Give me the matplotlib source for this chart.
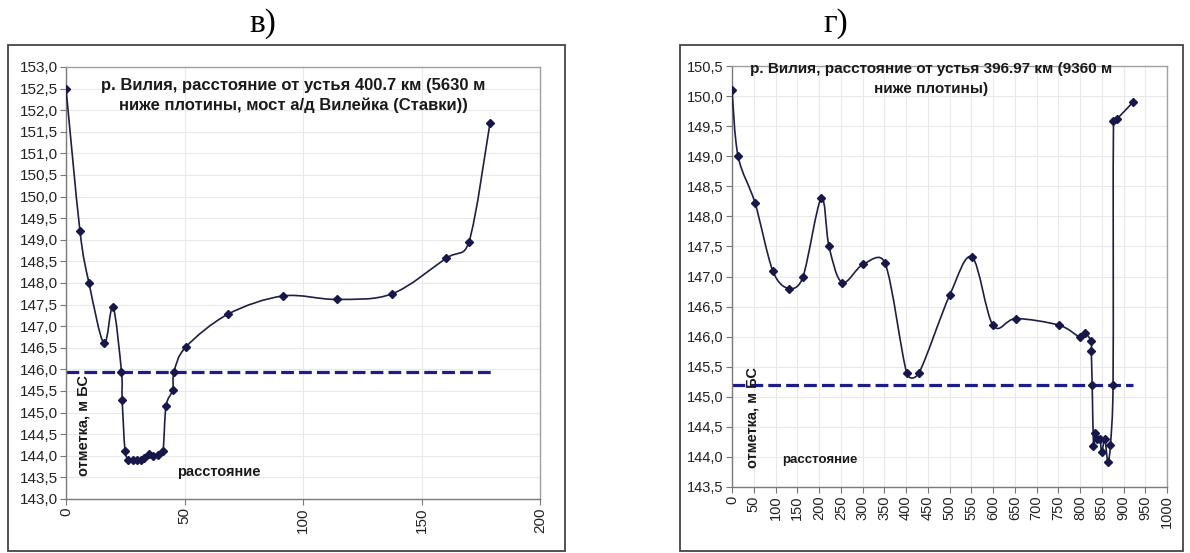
import numpy as np
import matplotlib
matplotlib.use("Agg")
import matplotlib.pyplot as plt
from matplotlib.path import Path
from matplotlib.patches import PathPatch, Rectangle
from matplotlib.ticker import FuncFormatter, MultipleLocator

plt.rcParams['font.family'] = ['Liberation Sans', 'DejaVu Sans']

# ---------------- data: panel "в)" ----------------
dist_v = [0, 5.9, 9.7, 16.0, 19.8, 23.4, 23.7, 24.9, 26.3, 28.1, 29.8, 31.5, 32.9,
          35.0, 36.7, 38.8, 40.9, 42.2, 45.0, 45.6, 50.6, 68.4, 91.6, 114.3, 137.6,
          160.3, 170.0, 178.9]
elev_v = [152.5, 149.2, 148.0, 146.6, 147.45, 145.95, 145.3, 144.12, 143.9, 143.9,
          143.9, 143.9, 143.95, 144.05, 144.0, 144.02, 144.1, 145.15, 145.52, 145.95,
          146.52, 147.28, 147.7, 147.62, 147.75, 148.57, 148.95, 151.7]
water_v_x = [0, 180]
water_v_y = [145.95, 145.95]
title_v = "р. Вилия, расстояние от устья 400.7 км (5630 м\nниже плотины, мост а/д Вилейка (Ставки))"
xticks_v = [0, 50, 100, 150, 200]

# ---------------- data: panel "г)" ----------------
dist_g = [0, 14, 53, 94, 131, 163, 205, 223, 253, 301, 352, 402, 430, 501, 552,
          600, 653, 752, 800, 811, 826, 826, 828, 831, 834, 840, 846, 850, 857,
          864, 870, 876, 877, 885, 922]
elev_g = [150.1, 149.0, 148.22, 147.09, 146.8, 146.99, 148.3, 147.5, 146.9, 147.2,
          147.22, 145.39, 145.4, 146.7, 147.32, 146.19, 146.3, 146.19, 145.99, 146.06,
          145.92, 145.76, 145.2, 144.19, 144.39, 144.3, 144.3, 144.08, 144.29,
          143.92, 144.2, 145.2, 149.58, 149.62, 149.9]
water_g_x = [0, 922]
water_g_y = [145.2, 145.2]
title_g = "р. Вилия, расстояние от устья 396.97 км (9360 м\nниже плотины)"

LINE = '#1e1e46'
MARK = '#17174a'
WATER = '#1c1c8a'
GRID = '#e9e9e9'


def smooth_path(x, y, sx, sy):
    """Excel-like smoothed line (Catmull-Rom Bezier), tangents limited to avoid overshoot."""
    pts = np.column_stack([np.asarray(x, float) * sx, np.asarray(y, float) * sy])
    n = len(pts)
    verts = [pts[0]]
    codes = [Path.MOVETO]
    for i in range(n - 1):
        p0 = pts[i - 1] if i > 0 else pts[i]
        p1 = pts[i]
        p2 = pts[i + 1]
        p3 = pts[i + 2] if i + 2 < n else pts[i + 1]
        seg = np.hypot(*(p2 - p1))
        t1 = (p2 - p0) / 6.0
        t2 = (p3 - p1) / 6.0
        lim = seg * 0.6
        for t in (t1, t2):
            L = np.hypot(*t)
            if L > lim and L > 0:
                t *= lim / L
        c1 = p1 + t1
        c2 = p2 - t2
        verts += [c1, c2, p2]
        codes += [Path.CURVE4] * 3
    verts = np.array(verts)
    verts[:, 0] /= sx
    verts[:, 1] /= sy
    return Path(verts, codes)


fig = plt.figure(figsize=(11.9, 5.53), dpi=100)
W, H = 1190, 553


def fx(px):
    return px / W


def fy(py):
    return 1 - py / H


# outer frames
for (x0, y0, x1, y1) in [(8, 45, 565, 551), (680, 45, 1183, 551)]:
    fig.add_artist(Rectangle((fx(x0), fy(y1)), fx(x1) - fx(x0), fy(y0) - fy(y1),
                             transform=fig.transFigure, fill=False,
                             edgecolor='#444444', lw=1.3))

fig.text(fx(263), fy(24), "в)", family='Liberation Serif', fontsize=24,
         ha='center', va='center')
fig.text(fx(836), fy(24), "г)", family='Liberation Serif', fontsize=24,
         ha='center', va='center')


def setup(ax, xmax, xstep, ymin, ymax, fs):
    ax.set_xlim(0, xmax)
    ax.set_ylim(ymin, ymax)
    ax.xaxis.set_major_locator(MultipleLocator(xstep))
    ax.yaxis.set_major_locator(MultipleLocator(0.5))
    ax.yaxis.set_major_formatter(FuncFormatter(lambda v, p: f"{v:.1f}".replace('.', ',')))
    ax.xaxis.set_major_formatter(FuncFormatter(lambda v, p: f"{v:.0f}"))
    ax.grid(True, color=GRID, lw=0.8)
    ax.set_axisbelow(True)
    for s in ax.spines.values():
        s.set_color('#a0a0a0')
        s.set_linewidth(1.0)
    ax.spines['left'].set_color('#7a7a7a')
    ax.spines['bottom'].set_color('#7a7a7a')
    ax.tick_params(axis='both', direction='out', length=4, width=0.8, color='#777777',
                   labelsize=fs, labelcolor='#222222', pad=2)
    ax.tick_params(axis='x', labelrotation=90)


# -------- panel в --------
ax1 = fig.add_axes([fx(66), fy(499), fx(540) - fx(66), fy(67) - fy(499)])
setup(ax1, 200, 50, 143.0, 153.0, 11)
ax1.set_xticks(xticks_v)
ax1.plot(water_v_x, water_v_y, color=WATER, lw=2.3, dashes=(4, 1.6), zorder=2)
ax1.add_patch(PathPatch(smooth_path(dist_v, elev_v, 474 / 200, 432 / 10), fill=False,
                        edgecolor=LINE, lw=1.2, zorder=3))
ax1.plot(dist_v, elev_v, ls='none', marker='D', ms=3.6, color=MARK, zorder=4)
ax1.text(0.48, 0.935, title_v, transform=ax1.transAxes, ha='center', va='center',
         fontsize=12, fontweight='bold', linespacing=1.35, color='#1a1a1a')
ax1.text(0.036, 0.17, "отметка, м БС", transform=ax1.transAxes, rotation=90,
         ha='center', va='center', fontsize=10.5, fontweight='bold', color='#1a1a1a')
ax1.text(0.323, 0.063, "расстояние", transform=ax1.transAxes, ha='center',
         va='center', fontsize=10.5, fontweight='bold', color='#1a1a1a')

# -------- panel г --------
ax2 = fig.add_axes([fx(732), fy(487), fx(1167) - fx(732), fy(66) - fy(487)])
setup(ax2, 1000, 50, 143.5, 150.5, 10.5)
ax2.plot(water_g_x, water_g_y, color=WATER, lw=2.3, dashes=(4, 1.6), zorder=2)
ax2.add_patch(PathPatch(smooth_path(dist_g, elev_g, 435 / 1000, 421 / 7), fill=False,
                        edgecolor=LINE, lw=1.2, zorder=3))
ax2.plot(dist_g, elev_g, ls='none', marker='D', ms=3.6, color=MARK, zorder=4)
ax2.text(0.457, 0.968, title_g, transform=ax2.transAxes, ha='center', va='center',
         fontsize=11, fontweight='bold', linespacing=1.55, color='#1a1a1a',
         clip_on=False, zorder=5)
ax2.text(0.046, 0.164, "отметка, м БС", transform=ax2.transAxes, rotation=90,
         ha='center', va='center', fontsize=10.5, fontweight='bold', color='#1a1a1a')
ax2.text(0.202, 0.064, "расстояние", transform=ax2.transAxes, ha='center',
         va='center', fontsize=9.5, fontweight='bold', color='#1a1a1a')

fig.savefig("out.png", dpi=100, facecolor='white')
